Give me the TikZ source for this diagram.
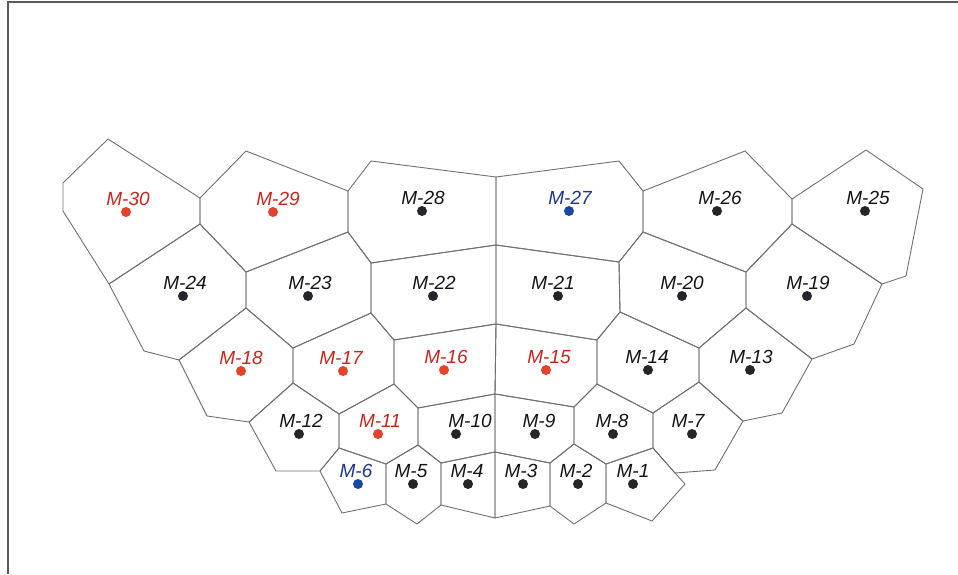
\documentclass[tikz,border=0pt]{standalone}
\usepackage{fontspec}
\setmainfont{Liberation Sans}
\definecolor{cellgray}{RGB}{112,112,112}
\definecolor{framegray}{RGB}{90,90,90}
\definecolor{spotk}{RGB}{38,38,42}
\definecolor{spotr}{RGB}{228,66,42}
\definecolor{spotb}{RGB}{26,72,160}
\definecolor{tagk}{RGB}{20,20,20}
\definecolor{tagr}{RGB}{198,38,30}
\definecolor{tagb}{RGB}{30,52,140}
\tikzset{
  cell/.style={draw=cellgray, line width=0.9pt, line join=round},
  spot/.style={circle, inner sep=0pt, minimum size=10pt},
  tag/.style={inner sep=0pt, font=\itshape\fontsize{19}{21}\selectfont}
}
\begin{document}
\begin{tikzpicture}[x=1pt, y=-1pt]
  \useasboundingbox (0,0) rectangle (958,574);
  % Frame
  \draw[framegray, line width=1.4pt] (8,574) -- (8,2) -- (958,2);
  % Cells
  \draw[cell] (108,139) -- (63,183) -- (63,211) -- (109,284) -- (200,224) -- (200,198) -- cycle;
  \draw[cell] (200,198) -- (246,151) -- (348,191) -- (348,232) -- (246,272) -- (200,224) -- cycle;
  \draw[cell] (348,191) -- (371,161) -- (496,177) -- (496,245) -- (371,263) -- (348,232) -- cycle;
  \draw[cell] (496,177) -- (619,161) -- (643,191) -- (643,232) -- (619,262) -- (496,245) -- cycle;
  \draw[cell] (643,191) -- (745,151) -- (792,199) -- (792,224) -- (746,272) -- (643,232) -- cycle;
  \draw[cell] (792,199) -- (866,150) -- (923,189) -- (906,276) -- (882,284) -- (792,224) -- cycle;
  \draw[cell] (109,284) -- (200,224) -- (246,272) -- (246,308) -- (179,360) -- (144,351) -- cycle;
  \draw[cell] (246,272) -- (348,232) -- (371,263) -- (371,313) -- (293,348) -- (246,308) -- cycle;
  \draw[cell] (371,263) -- (496,245) -- (496,324) -- (394,340) -- (371,313) -- cycle;
  \draw[cell] (496,245) -- (619,262) -- (620,312) -- (597,340) -- (496,324) -- cycle;
  \draw[cell] (619,262) -- (643,232) -- (746,272) -- (746,308) -- (699,348) -- (620,312) -- cycle;
  \draw[cell] (746,272) -- (792,224) -- (882,284) -- (854,344) -- (812,359) -- (746,308) -- cycle;
  \draw[cell] (246,308) -- (293,348) -- (293,383) -- (249,422) -- (207,416) -- (179,360) -- cycle;
  \draw[cell] (293,348) -- (371,313) -- (394,340) -- (394,384) -- (339,414) -- (293,383) -- cycle;
  \draw[cell] (394,340) -- (496,324) -- (495,394) -- (418,408) -- (394,384) -- cycle;
  \draw[cell] (496,324) -- (597,340) -- (597,384) -- (574,407) -- (495,394) -- cycle;
  \draw[cell] (597,340) -- (620,312) -- (699,348) -- (699,382) -- (653,413) -- (597,384) -- cycle;
  \draw[cell] (699,348) -- (746,308) -- (812,359) -- (782,413) -- (743,421) -- (699,382) -- cycle;
  \draw[cell] (293,383) -- (339,414) -- (339,448) -- (320,471) -- (276,471) -- (249,422) -- cycle;
  \draw[cell] (339,414) -- (394,384) -- (418,408) -- (418,445) -- (386,464) -- (339,448) -- cycle;
  \draw[cell] (418,408) -- (495,394) -- (495,452) -- (441,463) -- (418,445) -- cycle;
  \draw[cell] (495,394) -- (574,407) -- (574,444) -- (550,463) -- (495,452) -- cycle;
  \draw[cell] (574,407) -- (597,384) -- (653,413) -- (653,448) -- (606,464) -- (574,444) -- cycle;
  \draw[cell] (653,413) -- (699,382) -- (743,421) -- (715,470) -- (675,473) -- (653,448) -- cycle;
  \draw[cell] (339,448) -- (386,464) -- (386,504) -- (342,513) -- (320,471) -- cycle;
  \draw[cell] (386,464) -- (418,445) -- (441,463) -- (441,505) -- (417,524) -- (386,504) -- cycle;
  \draw[cell] (441,463) -- (495,452) -- (495,518) -- (441,505) -- cycle;
  \draw[cell] (495,452) -- (550,463) -- (550,506) -- (495,518) -- cycle;
  \draw[cell] (550,463) -- (574,444) -- (606,464) -- (606,503) -- (574,524) -- (550,506) -- cycle;
  \draw[cell] (606,464) -- (653,448) -- (675,473) -- (685,484) -- (652,521) -- (606,503) -- cycle;
  % Markers and their tags
  \foreach \n/\px/\py/\lx/\c in
    {30/126/212/128/r, 29/273/212/278/r, 28/422/211/423/k, 27/569/211/570/b,
     26/717/211/720/k, 25/865/211/868/k, 24/183/296/185/k, 23/308/296/310/k,
     22/433/296/434/k, 21/558/296/553/k, 20/682/296/682/k, 19/807/296/808/k,
     18/241/371/241/r, 17/343/371/341/r, 16/444/370/446/r, 15/546/370/549/r,
     14/648/370/647/k, 13/750/370/751/k, 12/299/434/301/k, 11/378/434/380/r,
     10/456/434/470/k, 9/535/434/539/k, 8/613/434/612/k, 7/692/434/688/k,
     6/358/484/356/b, 5/413/484/411/k, 4/468/484/467/k, 3/523/484/521/k,
     2/578/484/576/k, 1/633/484/633/k}
  {
    \node[spot, fill=spot\c] (m\n) at (\px,\py) {};
    \node[tag, text=tag\c] (m\n-tag) at (\lx,\py-13) {M-\n};
  }
\end{tikzpicture}
\end{document}
